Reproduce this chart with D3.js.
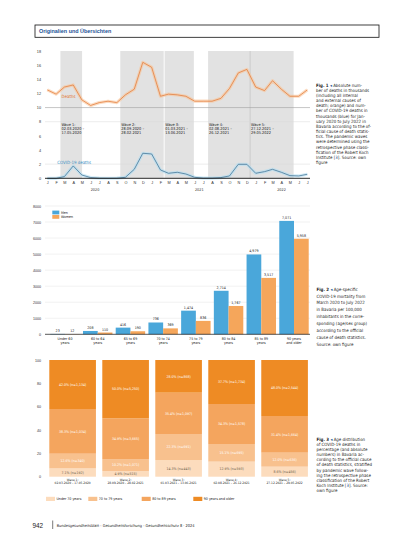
<!DOCTYPE html>
<html>
<head>
<meta charset="utf-8">
<script src="https://cdn.jsdelivr.net/npm/d3@7"></script>
<style>
body { margin: 0; background: #fff; }
svg { display: block; font-family: "Liberation Sans Narrow", "DejaVu Sans Condensed", "Liberation Sans", sans-serif; }
</style>
</head>
<body>
<div id="page"></div>
<script>
// ---- Fig. 1: monthly deaths (thousands), Jan 2020 - Jul 2022
var monthLetters = ["J","F","M","A","M","J","J","A","S","O","N","D",
                    "J","F","M","A","M","J","J","A","S","O","N","D",
                    "J","F","M","A","M","J","J"];
var yearLabels = ["2020", "2021", "2022"];
var deathsThousands = [12.5, 11.9, 12.9, 13.2, 11.1, 10.3, 10.7, 10.9, 10.7, 11.8, 12.6, 16.4,
                       15.7, 11.6, 11.9, 11.8, 11.6, 10.9, 10.9, 10.9, 11.3, 12.7, 14.9, 15.4,
                       12.9, 12.4, 13.8, 12.6, 11.6, 11.6, 12.5];
var covidThousands = [0, 0, 0.24, 1.75, 0.47, 0.1, 0.02, 0.01, 0.02, 0.14, 1.27, 3.54,
                      3.44, 1.18, 0.71, 0.85, 0.61, 0.14, 0.03, 0.03, 0.1, 0.33, 1.98, 1.98,
                      0.71, 0.94, 1.27, 0.85, 0.38, 0.33, 0.57];
var waveNames = ["Wave 1:", "Wave 2:", "Wave 3:", "Wave 4:", "Wave 5:"];
var waveStart = ["02.03.2020", "28.09.2020", "01.03.2021", "02.08.2021", "27.12.2021"];
var waveEnd   = ["17.05.2020", "28.02.2021", "13.06.2021", "26.12.2021", "29.05.2022"];

// ---- Fig. 2: mortality per 100,000 by age and sex
var ageGroups = [["Under 60", "years"], ["60 to 64", "years"], ["65 to 69", "years"], ["70 to 74", "years"],
                 ["75 to 79", "years"], ["80 to 84", "years"], ["85 to 89", "years"], ["90 years", "and older"]];
var sexes = ["Men", "Women"];
var menRate   = [23, 208, 416, 736, 1474, 2714, 4979, 7071];
var womenRate = [12, 110, 190, 369, 836, 1767, 3517, 5958];

// ---- Fig. 3: age distribution of COVID-19 deaths by wave
var ageBands = ["Under 70 years", "70 to 79 years", "80 to 89 years", "90 years and older"];
var shareUnder70 = [7.1, 4.9, 14.3, 12.9, 8.6];
var share70to79  = [12.6, 10.2, 22.3, 15.1, 12.0];
var share80to89  = [38.3, 34.9, 35.4, 34.3, 31.4];
var share90plus  = [42.0, 50.0, 28.0, 37.7, 48.0];
var countUnder70 = [192, 515, 443, 593, 456];
var count70to79  = [340, 1071, 691, 695, 636];
var count80to89  = [1034, 3665, 1097, 1578, 1664];
var count90plus  = [1134, 5250, 868, 1734, 2544];

var fig1Caption = ["Absolute num-", "ber of deaths in thousands", "(including all internal",
  "and external causes of", "death; orange) and num-", "ber of COVID-19 deaths in",
  "thousands (blue) for Jan-", "uary 2020 to July 2022 in", "Bavaria according to the of-",
  "ficial cause of death statis-", "tics. The pandemic waves", "were determined using the",
  "retrospective phase classi-", "fication of the Robert Koch", "Institute [3]. Source: own", "figure"];
var fig2Caption = ["Age-specific", "COVID-19 mortality from", "March 2020 to July 2022",
  "in Bavaria per 100,000", "inhabitants in the corre-", "sponding (age/sex group)",
  "according to the official", "cause of death statistics.", "Source: own figure"];
var fig3Caption = ["Age distribution", "of COVID-19 deaths in", "percentage (and absolute",
  "numbers) in Bavaria ac-", "cording to the official cause", "of death statistics, stratified",
  "by pandemic wave follow-", "ing the retrospective phase", "classification of the Robert",
  "Koch Institute [3]. Source:", "own figure"];

const width = 413, height = 550;

const svg = d3.select("#page").append("svg")
    .attr("width", width)
    .attr("height", height);

// header box
svg.append("rect")
    .attr("x", 35).attr("y", 25).attr("width", 344).attr("height", 12.3)
    .attr("fill", "none").attr("stroke", "#111").attr("stroke-width", 0.8);
svg.append("text")
    .attr("x", 39).attr("y", 33.2)
    .style("font-family", "'Liberation Sans', Arial, sans-serif")
    .style("font-size", "5.4px").style("font-weight", "bold")
    .attr("fill", "#1d5396")
    .text("Originalien und Übersichten");

function parseDe(s) {
    var p = s.split(".");
    return new Date(+p[2], +p[1] - 1, +p[0]);
}

// ================= Fig. 1 =================
var monthDates = monthLetters.map(function(d, i) { return new Date(2020, i, 16); });

var x1 = d3.scaleTime()
    .domain([monthDates[0], monthDates[monthDates.length - 1]])
    .range([47.3, 307.3]);
var y1 = d3.scaleLinear().domain([0, 18]).range([178.3, 51]);

var g1 = svg.append("g");

// wave bands
waveNames.forEach(function(name, i) {
    var xs = x1(parseDe(waveStart[i])), xe = x1(parseDe(waveEnd[i]));
    g1.append("rect")
        .attr("x", xs).attr("y", y1(18))
        .attr("width", xe - xs).attr("height", y1(0) - y1(18))
        .attr("fill", "#e2e2e2");
});
// separators between adjoining waves
g1.append("line")
    .attr("x1", x1(parseDe(waveStart[2]))).attr("x2", x1(parseDe(waveStart[2])))
    .attr("y1", y1(18)).attr("y2", y1(0))
    .attr("stroke", "#fff").attr("stroke-width", 0.8);
g1.append("line")
    .attr("x1", x1(parseDe(waveStart[4]))).attr("x2", x1(parseDe(waveStart[4])))
    .attr("y1", y1(18)).attr("y2", y1(0))
    .attr("stroke", "#b5b5b5").attr("stroke-width", 0.6);

// grid lines
[2, 8].forEach(function(v) {
    g1.append("line")
        .attr("x1", 45).attr("x2", 310).attr("y1", y1(v)).attr("y2", y1(v))
        .attr("stroke", "#d9d9d9").attr("stroke-width", 0.5);
});
g1.append("line")
    .attr("x1", 45).attr("x2", 310).attr("y1", y1(10)).attr("y2", y1(10))
    .attr("stroke", "#a0a0a0").attr("stroke-width", 0.6);

// wave labels
waveNames.forEach(function(name, i) {
    var t = g1.append("text")
        .attr("x", x1(parseDe(waveStart[i])) + 1)
        .attr("y", 125.5)
        .style("font-size", "3.9px")
        .attr("fill", "#222");
    t.append("tspan").attr("x", x1(parseDe(waveStart[i])) + 1).attr("dy", 0).text(name);
    t.append("tspan").attr("x", x1(parseDe(waveStart[i])) + 1).attr("dy", 4.3).text(waveStart[i] + " \u2013");
    t.append("tspan").attr("x", x1(parseDe(waveStart[i])) + 1).attr("dy", 4.3).text(waveEnd[i]);
});

// y axis
var yAxis1 = g1.append("g")
    .attr("transform", "translate(41,0)")
    .call(d3.axisLeft(y1).tickValues(d3.range(0, 19, 2)).tickSize(0).tickPadding(0));
yAxis1.select(".domain").remove();
yAxis1.selectAll("text").style("font-size", "3.8px").attr("fill", "#333").style("font-family", null);

// lines with glow
var line1 = d3.line()
    .x(function(d, i) { return x1(monthDates[i]); })
    .y(function(d) { return y1(d); });

g1.append("path").datum(deathsThousands).attr("d", line1)
    .attr("fill", "none").attr("stroke", "#f8c49a").attr("stroke-width", 3.2)
    .attr("stroke-opacity", 0.6).attr("stroke-linejoin", "round");
g1.append("path").datum(deathsThousands).attr("d", line1)
    .attr("fill", "none").attr("stroke", "#e2742f").attr("stroke-width", 0.7)
    .attr("stroke-linejoin", "round");

g1.append("path").datum(covidThousands).attr("d", line1)
    .attr("fill", "none").attr("stroke", "#b3def2").attr("stroke-width", 3.2)
    .attr("stroke-opacity", 0.6).attr("stroke-linejoin", "round");
g1.append("path").datum(covidThousands).attr("d", line1)
    .attr("fill", "none").attr("stroke", "#35698c").attr("stroke-width", 0.7)
    .attr("stroke-linejoin", "round");

// baseline
g1.append("line")
    .attr("x1", 45).attr("x2", 310).attr("y1", y1(0)).attr("y2", y1(0))
    .attr("stroke", "#111").attr("stroke-width", 0.9);

g1.append("text").attr("x", 61.5).attr("y", 98.2)
    .style("font-size", "4.4px").attr("fill", "#e2742f").text("Deaths");
g1.append("text").attr("x", 57.3).attr("y", 163.6)
    .style("font-size", "4.4px").attr("fill", "#3b90c4").text("COVID-19 deaths");

// x axis months
var xAxis1 = g1.append("g")
    .attr("transform", "translate(0," + y1(0) + ")")
    .call(d3.axisBottom(x1).tickValues(monthDates)
        .tickFormat(function(d, i) { return monthLetters[i]; })
        .tickSize(0).tickPadding(3.2));
xAxis1.select(".domain").remove();
xAxis1.selectAll("text").style("font-size", "3.8px").attr("fill", "#333").style("font-family", null);

yearLabels.forEach(function(yr, i) {
    var a = x1(monthDates[i * 12]);
    var b = x1(monthDates[Math.min(i * 12 + 11, monthDates.length - 1)]);
    g1.append("text").attr("x", (a + b) / 2).attr("y", 191)
        .attr("text-anchor", "middle").style("font-size", "3.8px").attr("fill", "#333")
        .text(yr);
});

// ================= Fig. 2 =================
var g2 = svg.append("g");
var x2 = d3.scaleBand().domain(d3.range(ageGroups.length))
    .range([48.65, 310.35]).paddingInner(0.1).paddingOuter(0.05);
var xSex = d3.scaleBand().domain(sexes).range([0, x2.bandwidth()]);
var y2 = d3.scaleLinear().domain([0, 8000]).range([334.3, 206]);
var sexColor = d3.scaleOrdinal().domain(sexes).range(["#4aa7da", "#f5a65b"]);

y2.ticks(8).forEach(function(v) {
    if (v === 0) return;
    g2.append("line")
        .attr("x1", 45).attr("x2", 310).attr("y1", y2(v)).attr("y2", y2(v))
        .attr("stroke", "#e3e3e3").attr("stroke-width", 0.5);
});

var yAxis2 = g2.append("g")
    .attr("transform", "translate(41,0)")
    .call(d3.axisLeft(y2).ticks(8).tickFormat(d3.format("d")).tickSize(0).tickPadding(0));
yAxis2.select(".domain").remove();
yAxis2.selectAll("text").style("font-size", "3.6px").attr("fill", "#333").style("font-family", null);

var rates = { "Men": menRate, "Women": womenRate };
var groups2 = g2.selectAll("g.age")
    .data(ageGroups)
    .enter().append("g")
    .attr("transform", function(d, i) { return "translate(" + x2(i) + ",0)"; });

groups2.each(function(d, i) {
    var grp = d3.select(this);
    sexes.forEach(function(s) {
        var v = rates[s][i];
        grp.append("rect")
            .attr("x", xSex(s)).attr("y", y2(v))
            .attr("width", xSex.bandwidth()).attr("height", y2(0) - y2(v))
            .attr("fill", sexColor(s));
        grp.append("text")
            .attr("x", xSex(s) + xSex.bandwidth() / 2).attr("y", y2(v) - 2)
            .attr("text-anchor", "middle")
            .style("font-size", "3.6px").attr("fill", "#222")
            .text(d3.format(",")(v));
    });
    var lab = grp.append("text")
        .attr("text-anchor", "middle").attr("y", 340.3)
        .style("font-size", "3.6px").attr("fill", "#222");
    lab.append("tspan").attr("x", x2.bandwidth() / 2).text(d[0]);
    lab.append("tspan").attr("x", x2.bandwidth() / 2).attr("dy", 3.7).text(d[1]);
});

g2.append("line")
    .attr("x1", 45).attr("x2", 310).attr("y1", y2(0)).attr("y2", y2(0))
    .attr("stroke", "#111").attr("stroke-width", 0.7);

// legend
sexes.forEach(function(s, i) {
    g2.append("rect").attr("x", 52.3).attr("y", 210.6 + i * 4.4)
        .attr("width", 7).attr("height", 3.8).attr("fill", sexColor(s));
    g2.append("text").attr("x", 61).attr("y", 213.7 + i * 4.4)
        .style("font-size", "3.6px").attr("fill", "#222").text(s);
});

// ================= Fig. 3 =================
var g3 = svg.append("g");
var shares = [shareUnder70, share70to79, share80to89, share90plus];
var counts = [countUnder70, count70to79, count80to89, count90plus];
var table3 = waveNames.map(function(w, i) {
    var row = { wave: i };
    ageBands.forEach(function(a, k) { row[a] = shares[k][i]; });
    return row;
});
var stack3 = d3.stack().keys(ageBands)(table3);

var x3 = d3.scaleBand().domain(d3.range(waveNames.length))
    .range([49.3, 307.9]).paddingInner(0.12).paddingOuter(0);
var y3 = d3.scaleLinear().domain([0, 100]).range([476.7, 360]);
var bandColor = d3.scaleOrdinal().domain(ageBands)
    .range(["#fcdcbd", "#f8c18e", "#f4a55e", "#ee8b24"]);

var yAxis3 = g3.append("g")
    .attr("transform", "translate(41,0)")
    .call(d3.axisLeft(y3).tickValues(d3.range(0, 101, 20)).tickSize(0).tickPadding(0));
yAxis3.select(".domain").remove();
yAxis3.selectAll("text").style("font-size", "3.6px").attr("fill", "#333").style("font-family", null);

stack3.forEach(function(layer, k) {
    layer.forEach(function(seg, i) {
        g3.append("rect")
            .attr("x", x3(i)).attr("y", y3(seg[1]))
            .attr("width", x3.bandwidth()).attr("height", y3(seg[0]) - y3(seg[1]))
            .attr("fill", bandColor(layer.key));
        g3.append("text")
            .attr("x", x3(i) + x3.bandwidth() / 2)
            .attr("y", (y3(seg[0]) + y3(seg[1])) / 2 + 1.2)
            .attr("text-anchor", "middle")
            .style("font-size", "3.5px")
            .attr("fill", k === 0 ? "#6b5a4a" : "#fff")
            .text(d3.format(".1f")(shares[k][i]) + "% (n=" + d3.format(",")(counts[k][i]) + ")");
    });
});

waveNames.forEach(function(w, i) {
    var t = g3.append("text").attr("text-anchor", "middle").attr("y", 481)
        .style("font-size", "3.2px").attr("fill", "#222");
    t.append("tspan").attr("x", x3(i) + x3.bandwidth() / 2).text(w);
    t.append("tspan").attr("x", x3(i) + x3.bandwidth() / 2).attr("dy", 3.2)
        .text(waveStart[i] + " \u2013 " + waveEnd[i]);
});

var legendX3 = [46, 88.3, 141.7, 193.3];
ageBands.forEach(function(a, k) {
    g3.append("rect").attr("x", legendX3[k]).attr("y", 496.8)
        .attr("width", 9).attr("height", 4.2).attr("fill", bandColor(a));
    g3.append("text").attr("x", legendX3[k] + 10.5).attr("y", 500.2)
        .style("font-size", "3.6px").attr("fill", "#222").text(a);
});

// ================= captions =================
function caption(label, lines, x, y0, dy) {
    var t = svg.append("text").attr("x", x).attr("y", y0)
        .style("font-size", "4.4px").attr("fill", "#262626");
    lines.forEach(function(l, i) {
        var ts = t.append("tspan").attr("x", x).attr("dy", i === 0 ? 0 : dy);
        if (i === 0) {
            ts.append("tspan").style("font-weight", "bold").text(label + " ");
            ts.append("tspan").attr("fill", "#1d5396").text("\u25C2 ");
            ts.append("tspan").text(l);
        } else if (l.indexOf("[3]") >= 0) {
            var parts = l.split("[3]");
            ts.append("tspan").text(parts[0] + "[");
            ts.append("tspan").attr("fill", "#1d5396").text("3");
            ts.append("tspan").text("]" + parts[1]);
        } else {
            ts.text(l);
        }
    });
}
caption("Fig. 1", fig1Caption, 316, 86.5, 5.18);
caption("Fig. 2", fig2Caption, 316.5, 290.6, 6.9);
caption("Fig. 3", fig3Caption, 316.5, 440.7, 5.14);

// ================= footer =================
svg.append("text").attr("x", 32.5).attr("y", 528)
    .style("font-family", "'Liberation Sans', Arial, sans-serif")
    .style("font-size", "6.4px").attr("fill", "#222").text("942");
svg.append("line").attr("x1", 52.7).attr("x2", 52.7).attr("y1", 520.5).attr("y2", 529)
    .attr("stroke", "#222").attr("stroke-width", 0.6);
svg.append("text").attr("x", 56.7).attr("y", 526.8)
    .style("font-size", "3.9px").attr("fill", "#222")
    .text("Bundesgesundheitsblatt - Gesundheitsforschung - Gesundheitsschutz 8 \u00B7 2024");
</script>
</body>
</html>
